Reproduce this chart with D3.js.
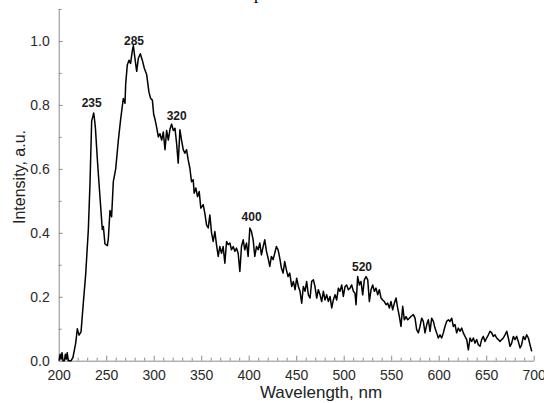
<!DOCTYPE html>
<html>
<head>
<meta charset="utf-8">
<script src="https://cdn.jsdelivr.net/npm/d3@7"></script>
<style>
  body { margin: 0; background: #fff; }
  svg { display: block; font-family: Arial, "Liberation Sans", sans-serif; }
  .axis path, .axis line { stroke: #8c8c8c; }
  .axis text { fill: #2a2a2a; font-size: 14px; }
  .peak { font-size: 12px; font-weight: bold; fill: #1a1a1a; text-anchor: middle; }
</style>
</head>
<body>
<div id="chart"></div>
<script>
// spectrum
const wavelength = [
  200.5, 201.5, 202.5, 203.5, 204.5, 206, 207, 208, 209, 210, 213, 215,
  217.9, 219.6, 221.4, 223.5, 225.9, 228.4, 231.2, 233.0, 234.7, 236.1, 236.8, 237.5, 238.6,
  241.0, 243.5, 245.9, 247.0, 248.7, 251.2, 252.2, 254.0, 255.7, 257.5, 260.0, 262.8, 265.2,
  268.0, 269.8, 270.5, 272.2, 274.0, 275.7, 277.5, 278.6, 280.3, 282.1, 283.8, 285.9, 288.0,
  290.1, 292.6, 295.0, 296.8, 298.6, 300.0, 301.4, 303.1, 304.9, 306.6, 308.4, 310.1, 311.9,
  313.6, 315.4, 317.2, 318.9, 320.7, 322.4, 324.1, 325.8, 327.6, 329.3, 331.1, 332.8, 334.6,
  336.3, 338.1, 339.8, 341.6, 342.6, 344.4, 346.1, 347.9, 349.6, 352.1, 353.9, 355.6, 357.4,
  359.1, 360.9, 362.6, 364.4, 366.1, 367.9, 369.6, 371.4, 373.1, 374.9, 376.7, 378.4, 380.2,
  381.9, 383.7, 385.4, 387.2, 388.9, 390.7, 392.4, 394.2, 395.9, 397.7, 399.4, 401.2, 402.9,
  404.7, 406.4, 408.2, 409.9, 411.7, 413.4, 415.2, 416.9, 418.7, 420.4, 422.2, 423.9, 425.7,
  427.4, 429.2, 430.9, 432.7, 434.4, 436.2, 437.9, 439.7, 441.4, 443.2, 445.3, 447.0, 448.8,
  450.5, 452.3, 454.0, 455.8, 457.5, 459.3, 461.0, 462.8, 464.6, 466.3, 468.1, 469.8, 471.6,
  473.3, 475.1, 476.8, 478.6, 480.3, 482.1, 483.9, 485.6, 487.4, 489.1, 490.9, 492.6, 494.4,
  496.1, 497.9, 499.6, 501.4, 503.1, 504.9, 506.7, 508.4, 510.2, 511.9, 513.0, 514.7, 516.5,
  518.2, 520.0, 521.7, 523.5, 525.3, 527.0, 528.8, 530.5, 532.3, 534.0, 535.8, 537.5, 539.3,
  541.0, 542.8, 544.6, 546.3, 548.1, 549.8, 551.6, 553.3, 555.1, 556.8, 558.6, 560.3, 562.1,
  563.8, 565.6, 567.4, 569.1, 571.0, 573.3, 575.1, 576.8, 578.6, 580.3, 582.1, 583.8, 585.6,
  587.4, 589.1, 590.9, 592.6, 594.4, 596.1, 597.9, 599.6, 601.4, 603.1, 604.9, 606.6, 608.4,
  610.2, 611.9, 613.7, 615.4, 617.2, 618.9, 620.7, 622.4, 624.2, 625.9, 627.7, 629.5, 631.2,
  633.0, 634.7, 636.5, 638.2, 640.0, 641.7, 643.5, 645.2, 647.0, 648.7, 650.5, 652.3, 654.0,
  655.8, 657.5, 659.3, 661.0, 662.8, 664.5, 666.3, 668.0, 669.8, 671.6, 673.3, 675.1, 676.8,
  678.6, 680.3, 682.1, 683.8, 685.6, 687.3, 689.1, 690.9, 692.6, 694.4, 696.1, 697.9
];
const intensity = [
  0.0, 0.02, 0.005, 0.025, 0.0, 0.0, 0.02, 0.005, 0.025, 0.0, 0.0, 0.01,
  0.055, 0.10, 0.08, 0.09, 0.18, 0.27, 0.41, 0.56, 0.75, 0.765, 0.775, 0.76, 0.73,
  0.615, 0.51, 0.41, 0.42, 0.365, 0.36, 0.38, 0.47, 0.45, 0.56, 0.60, 0.69, 0.755,
  0.82, 0.805, 0.865, 0.925, 0.94, 0.93, 0.97, 0.985, 0.945, 0.905, 0.945, 0.96, 0.94,
  0.915, 0.895, 0.84, 0.82, 0.815, 0.77, 0.755, 0.73, 0.70, 0.71, 0.69, 0.715, 0.66,
  0.72, 0.69, 0.725, 0.74, 0.72, 0.727, 0.68, 0.618, 0.722, 0.69, 0.66, 0.649, 0.66,
  0.628, 0.602, 0.56, 0.566, 0.524, 0.54, 0.513, 0.529, 0.477, 0.488, 0.46, 0.425, 0.415,
  0.456, 0.40, 0.373, 0.404, 0.363, 0.326, 0.357, 0.336, 0.357, 0.305, 0.373, 0.363, 0.368,
  0.347, 0.357, 0.342, 0.352, 0.336, 0.279, 0.357, 0.378, 0.347, 0.368, 0.326, 0.415, 0.404,
  0.378, 0.326, 0.357, 0.347, 0.368, 0.331, 0.357, 0.378, 0.342, 0.321, 0.295, 0.326, 0.316,
  0.336, 0.357, 0.347, 0.321, 0.29, 0.274, 0.31, 0.284, 0.263, 0.274, 0.232, 0.248, 0.222,
  0.258, 0.232, 0.217, 0.18, 0.232, 0.217, 0.248, 0.206, 0.196, 0.248, 0.253, 0.232, 0.196,
  0.222, 0.206, 0.185, 0.217, 0.19, 0.206, 0.185, 0.201, 0.165, 0.19, 0.206, 0.19, 0.227,
  0.217, 0.237, 0.201, 0.232, 0.237, 0.222, 0.227, 0.237, 0.217, 0.211, 0.175, 0.263, 0.237,
  0.248, 0.206, 0.253, 0.263, 0.253, 0.185, 0.222, 0.237, 0.217, 0.227, 0.206, 0.222, 0.196,
  0.19, 0.185, 0.175, 0.18, 0.165, 0.185, 0.159, 0.18, 0.196, 0.165, 0.138, 0.107, 0.17,
  0.128, 0.138, 0.128, 0.133, 0.139, 0.144, 0.133, 0.097, 0.087, 0.107, 0.133, 0.123, 0.087,
  0.113, 0.128, 0.092, 0.133, 0.123, 0.102, 0.087, 0.071, 0.081, 0.071, 0.087, 0.107, 0.123,
  0.128, 0.123, 0.133, 0.107, 0.113, 0.087, 0.102, 0.092, 0.102, 0.087, 0.076, 0.066, 0.034,
  0.071, 0.06, 0.071, 0.055, 0.066, 0.05, 0.045, 0.066, 0.076, 0.06, 0.071, 0.081, 0.092,
  0.087, 0.076, 0.081, 0.071, 0.066, 0.06, 0.066, 0.071, 0.081, 0.092, 0.071, 0.045, 0.055,
  0.076, 0.066, 0.076, 0.06, 0.04, 0.05, 0.076, 0.066, 0.081, 0.071, 0.05, 0.029
];

// peak labels: text, anchor wavelength, anchor intensity (label baseline)
const peakLabels = ["235", "285", "320", "400", "520"];
const peakLabelWl = [234.7, 279.3, 324.2, 403, 519.3];
const peakLabelInt = [0.794, 0.988, 0.753, 0.4375, 0.281];

const xMajorTicks = [200, 250, 300, 350, 400, 450, 500, 550, 600, 650, 700];
const yMajorTicks = [0.0, 0.2, 0.4, 0.6, 0.8, 1.0];

const data = wavelength.map((w, i) => ({ w, v: intensity[i] }));

const W = 544, H = 403;
const X0 = 58.7, X1 = 533.7, Y0 = 360.7, Y1 = 9;

const x = d3.scaleLinear().domain([200, 700]).range([X0, X1]);
const y = d3.scaleLinear().domain([0, 1.1]).range([Y0, Y1]);

const svg = d3.select('#chart').append('svg')
  .attr('width', W)
  .attr('height', H);

// title, cut off at the top edge
svg.append('text')
  .attr('x', 254)
  .attr('y', -1)
  .attr('font-family', '"Liberation Serif", serif')
  .attr('font-size', 17)
  .text('p');

// minor ticks
const xMinor = d3.range(200, 701, 10).filter(d => d % 50 !== 0);
svg.append('g').attr('class', 'axis')
  .attr('transform', `translate(0,${Y0})`)
  .call(d3.axisBottom(x).tickValues(xMinor).tickSizeInner(-3).tickSizeOuter(0).tickFormat(''))
  .call(g => g.select('.domain').remove());

const yMinor = [0.1, 0.3, 0.5, 0.7, 0.9, 1.1];
svg.append('g').attr('class', 'axis')
  .attr('transform', `translate(${X0},0)`)
  .call(d3.axisLeft(y).tickValues(yMinor).tickSizeInner(-3).tickSizeOuter(0).tickFormat(''))
  .call(g => g.select('.domain').remove());

// major axes
svg.append('g').attr('class', 'axis')
  .attr('transform', `translate(0,${Y0})`)
  .call(d3.axisBottom(x).tickValues(xMajorTicks).tickSizeInner(-5).tickSizeOuter(0).tickPadding(9).tickFormat(d3.format('d')));

svg.append('g').attr('class', 'axis')
  .attr('transform', `translate(${X0},0)`)
  .call(d3.axisLeft(y).tickValues(yMajorTicks).tickSizeInner(-4).tickSizeOuter(0).tickPadding(9).tickFormat(d3.format('.1f')));

svg.selectAll('.axis text').attr('font-family', 'Arial, "Liberation Sans", sans-serif');

// the spectrum
const line = d3.line().x(d => x(d.w)).y(d => y(d.v));
svg.append('path')
  .datum(data)
  .attr('fill', 'none')
  .attr('stroke', '#000')
  .attr('stroke-width', 1.5)
  .attr('stroke-linejoin', 'round')
  .attr('d', line);

// peak annotations
svg.selectAll('.peak')
  .data(peakLabels)
  .join('text')
  .attr('class', 'peak')
  .attr('x', (d, i) => x(peakLabelWl[i]))
  .attr('y', (d, i) => y(peakLabelInt[i]))
  .text(d => d);

// axis titles
svg.append('text')
  .attr('x', 321)
  .attr('y', 398)
  .attr('text-anchor', 'middle')
  .attr('font-size', 17)
  .attr('fill', '#222')
  .text('Wavelength, nm');

svg.append('text')
  .attr('transform', 'translate(25,177) rotate(-90)')
  .attr('text-anchor', 'middle')
  .attr('font-size', 16)
  .attr('fill', '#222')
  .text('Intensity, a.u.');
</script>
</body>
</html>
